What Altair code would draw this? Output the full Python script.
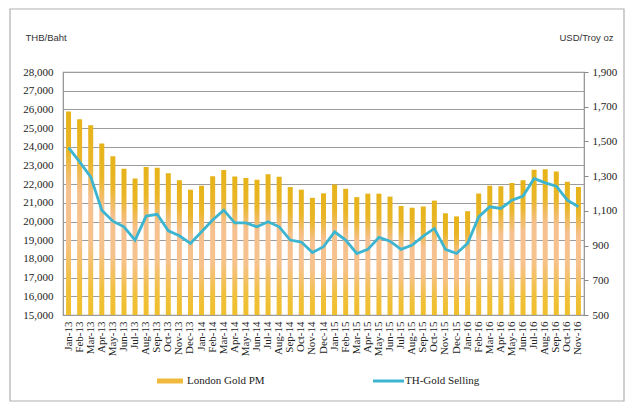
import altair as alt
import pandas as pd

MONTHS = ["Jan-13","Feb-13","Mar-13","Apr-13","May-13","Jun-13","Jul-13","Aug-13","Sep-13","Oct-13","Nov-13","Dec-13",
          "Jan-14","Feb-14","Mar-14","Apr-14","May-14","Jun-14","Jul-14","Aug-14","Sep-14","Oct-14","Nov-14","Dec-14",
          "Jan-15","Feb-15","Mar-15","Apr-15","May-15","Jun-15","Jul-15","Aug-15","Sep-15","Oct-15","Nov-15","Dec-15",
          "Jan-16","Feb-16","Mar-16","Apr-16","May-16","Jun-16","Jul-16","Aug-16","Sep-16","Oct-16","Nov-16"]
LONDON_PM = [1672,1628,1593,1488,1414,1343,1286,1352,1349,1317,1276,1222,
             1244,1300,1336,1298,1289,1279,1311,1296,1237,1222,1175,1201,
             1252,1227,1179,1199,1199,1182,1128,1118,1125,1159,1086,1068,
             1098,1200,1245,1242,1261,1276,1337,1340,1327,1267,1238]
TH_SELLING = [23950,23190,22390,20610,20020,19720,19010,20290,20390,19500,19240,18830,
              19450,20080,20610,19930,19930,19720,19990,19720,19010,18900,18340,18650,
              19450,19010,18290,18510,19150,18950,18510,18740,19220,19630,18510,18290,
              18830,20250,20790,20700,21140,21360,22300,22070,21890,21140,20790]
SERIES = ["London Gold PM", "TH-Gold Selling"]
LEFT_TICKS = list(range(15000, 28001, 1000))
RIGHT_TICKS = list(range(500, 1901, 200))

df = pd.DataFrame({"month": MONTHS, "usd": LONDON_PM, "thb": TH_SELLING})
legdf = pd.DataFrame({"name": SERIES})

W, H = 521, 243
SERIF = "Liberation Serif"
SANS = "Liberation Sans"
CYAN = "#3DB5D0"

xenc = alt.X("month:N", sort=MONTHS,
             scale=alt.Scale(paddingInner=0, paddingOuter=0),
             axis=alt.Axis(title=None, labelAngle=-90, labelAlign="right", labelBaseline="middle",
                           labelFont=SERIF, labelFontSize=11, labelColor="#222", labelPadding=6,
                           ticks=False, domain=False))

grad = alt.Gradient(gradient="linear", x1=0, x2=0, y1=0, y2=1,
                    stops=[alt.GradientStop(offset=0, color="#E6B318"),
                           alt.GradientStop(offset=0.2, color="#EAB62A"),
                           alt.GradientStop(offset=0.38, color="#F6C190"),
                           alt.GradientStop(offset=0.62, color="#F6C28C"),
                           alt.GradientStop(offset=0.86, color="#F1C03A"),
                           alt.GradientStop(offset=1, color="#EFBF2C")])

bars = alt.Chart(df).mark_bar(size=5, color=grad).encode(
    x=xenc,
    y=alt.Y("usd:Q", scale=alt.Scale(domain=[500, 1900], zero=False, nice=False),
            axis=alt.Axis(orient="right", values=RIGHT_TICKS, format=",d", grid=False,
                          domain=False, ticks=True, tickSize=4, tickColor="#888",
                          labelFont=SERIF, labelFontSize=11, labelColor="#222", labelPadding=4,
                          title="USD/Troy oz", titleAngle=0, titleAlign="right", titleBaseline="middle",
                          titleX=29, titleY=-35, titleFont=SANS, titleFontSize=9.5,
                          titleFontWeight="normal", titleColor="#333")),
    y2=alt.datum(500),
)

line = alt.Chart(df).mark_line(color=CYAN, strokeWidth=2.8).encode(
    x=alt.X("month:N", sort=MONTHS, bandPosition=0.5),
    y=alt.Y("thb:Q", scale=alt.Scale(domain=[15000, 28000], zero=False, nice=False),
            axis=alt.Axis(orient="left", values=LEFT_TICKS, format=",d", grid=True,
                          gridColor="#9C9C9C", gridWidth=1.1, domain=False, ticks=False,
                          labelFont=SERIF, labelFontSize=11, labelColor="#222", labelPadding=10,
                          title="THB/Baht", titleAngle=0, titleAlign="left", titleBaseline="middle",
                          titleX=-38, titleY=-35, titleFont=SANS, titleFontSize=9.5,
                          titleFontWeight="normal", titleColor="#333")),
)

one = alt.Chart(legdf).transform_filter(alt.datum.name == SERIES[0])
two = alt.Chart(legdf).transform_filter(alt.datum.name == SERIES[1])

frame = one.mark_rect(fillOpacity=0, stroke="#B0B0B0", strokeWidth=1.2).encode(
    x=alt.value(-53), x2=alt.value(561), y=alt.value(-63), y2=alt.value(329))

leg1 = one.mark_rule(color="#F0BA3C", strokeWidth=5).encode(
    x=alt.value(94), x2=alt.value(120), y=alt.value(309))
leg1t = one.mark_text(font=SERIF, fontSize=11, color="#222", align="left", baseline="middle").encode(
    x=alt.value(124), y=alt.value(309), text="name:N")
leg2 = two.mark_rule(color=CYAN, strokeWidth=3).encode(
    x=alt.value(310), x2=alt.value(341), y=alt.value(309))
leg2t = two.mark_text(font=SERIF, fontSize=11, color="#222", align="left", baseline="middle").encode(
    x=alt.value(342), y=alt.value(309), text="name:N")

chart = alt.layer(frame, bars, line, leg1, leg1t, leg2, leg2t).resolve_scale(y="independent").properties(
    width=W, height=H,
    padding={"left": 55, "top": 64, "right": 44, "bottom": 87},
    autosize=alt.AutoSizeParams(type="none"),
    background="white",
).configure_view(stroke="#8E8E8E", strokeWidth=1.2)

chart.save("out.html", embed_options={"renderer": "svg", "actions": False})
